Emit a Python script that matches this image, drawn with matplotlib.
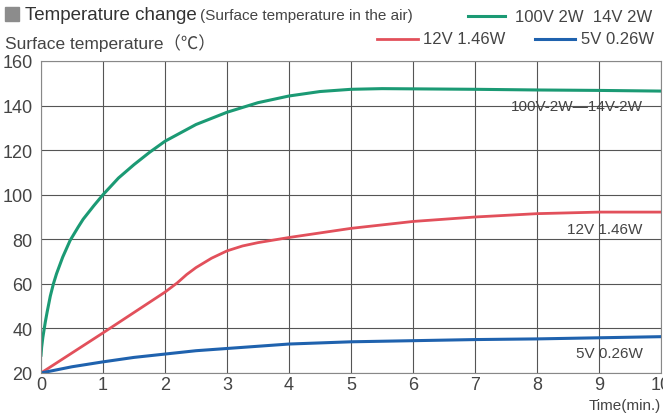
import matplotlib
matplotlib.use('Agg')
import matplotlib.pyplot as plt
from matplotlib.patches import Rectangle
from matplotlib.lines import Line2D

plt.rcParams['font.family'] = ['Liberation Sans', 'Noto Sans CJK JP', 'DejaVu Sans']

# Values
t_green = [0, 0.01, 0.03, 0.07, 0.1, 0.15, 0.2, 0.25, 0.35, 0.47, 0.6, 0.68, 0.85, 1.0, 1.25, 1.5,
           1.75, 2.0, 2.5, 3, 3.5, 4, 4.5, 5, 5.5, 6, 7, 8, 9, 10]
temp_green = [28, 31.5, 36, 43, 47.5, 54.5, 60, 64.5, 72, 79.5, 85.5, 89, 95, 100, 107.5, 113.5,
              119, 124, 131.5, 137, 141.3, 144.3, 146.3, 147.3, 147.6, 147.5, 147.3, 147, 146.8, 146.5]

t_red = [0, 1, 2, 2.2, 2.35, 2.5, 2.75, 3, 3.25, 3.5, 4, 5, 6, 7, 8, 9, 10]
temp_red = [20, 38, 56.3, 60.5, 64.2, 67.3, 71.5, 74.8, 77, 78.5, 80.8, 84.9, 88, 90, 91.5, 92.2, 92.2]

t_blue = [0, 0.5, 1, 1.5, 2, 2.5, 3, 4, 5, 6, 7, 8, 9, 10]
temp_blue = [20, 22.8, 25, 27, 28.5, 30, 31, 33, 34, 34.5, 35, 35.3, 35.8, 36.3]

x_ticks = list(range(0, 11))
y_ticks = list(range(20, 161, 20))

GREEN = '#1b9a74'
RED = '#e2505b'
BLUE = '#1f62ae'
TXT = '#444444'

fig = plt.figure(figsize=(6.63, 4.14), dpi=100)
ax = fig.add_axes([41 / 663, 40 / 414, 620 / 663, 312 / 414])

ax.plot(t_green, temp_green, color=GREEN, lw=2.2)
ax.plot(t_red, temp_red, color=RED, lw=2.0)
ax.plot(t_blue, temp_blue, color=BLUE, lw=2.2)

ax.set_xlim(0, 10)
ax.set_ylim(20, 160)
ax.set_xticks(x_ticks)
ax.set_yticks(y_ticks)
ax.grid(True, color='#555555', lw=0.8)
ax.set_axisbelow(True)
for s in ax.spines.values():
    s.set_color('#888888')
    s.set_linewidth(0.8)
ax.tick_params(length=0, labelsize=13, labelcolor=TXT)
ax.tick_params(axis='x', pad=2)
ax.tick_params(axis='y', pad=6)

# inline labels
ax.text(9.7, 140, '100V-2W—14V-2W', ha='right', va='center', fontsize=11, color=TXT)
ax.text(9.7, 84.5, '12V 1.46W', ha='right', va='center', fontsize=11, color=TXT)
ax.text(9.7, 29, '5V 0.26W', ha='right', va='center', fontsize=11, color=TXT)

fig.text(661 / 663, 8 / 414, 'Time(min.)', ha='right', va='center', fontsize=11, color=TXT)

# header
fig.patches.append(Rectangle((5 / 663, 392 / 414), 14 / 663, 14 / 414, transform=fig.transFigure,
                             color='#8c8c8c'))
fig.text(25 / 663, 399 / 414, 'Temperature change', ha='left', va='center', fontsize=13.5, color='#333333')
fig.text(200 / 663, 398 / 414, '(Surface temperature in the air)', ha='left', va='center',
         fontsize=11, color=TXT)
fig.text(5 / 663, 371 / 414, 'Surface temperature（℃）', ha='left', va='center', fontsize=12.5,
         color=TXT)

fig.lines.append(Line2D([468 / 663, 505 / 663], [397 / 414, 397 / 414], transform=fig.transFigure,
                        color=GREEN, lw=2.2))
fig.text(515 / 663, 397 / 414, '100V 2W  14V 2W', ha='left', va='center', fontsize=12, color=TXT)
fig.lines.append(Line2D([377 / 663, 418 / 663], [374 / 414, 374 / 414], transform=fig.transFigure,
                        color=RED, lw=2.0))
fig.text(423 / 663, 374 / 414, '12V 1.46W', ha='left', va='center', fontsize=12, color=TXT)
fig.lines.append(Line2D([535 / 663, 575 / 663], [374 / 414, 374 / 414], transform=fig.transFigure,
                        color=BLUE, lw=2.2))
fig.text(581 / 663, 374 / 414, '5V 0.26W', ha='left', va='center', fontsize=12, color=TXT)

fig.savefig('out.png', dpi=100)
